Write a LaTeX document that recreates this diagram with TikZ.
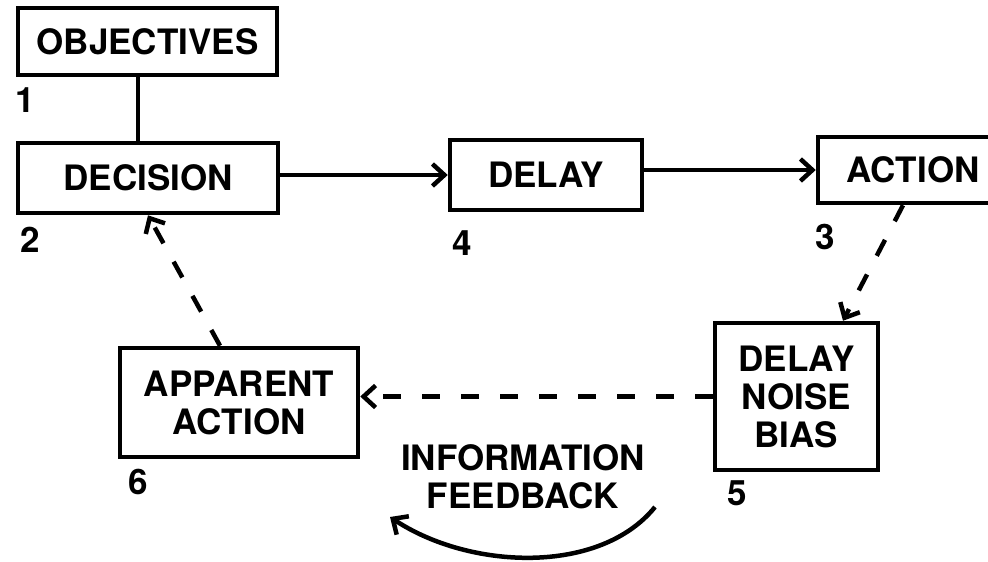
\documentclass[tikz,border=0pt]{standalone}
\usepackage{fontspec}
\setmainfont{TeX Gyre Heros}
\usetikzlibrary{arrows.meta}
\begin{document}
\begin{tikzpicture}[x=1pt,y=-1pt,
  every node/.style={font=\fontsize{35}{38}\selectfont\bfseries},
  blk/.style={draw,line width=4.5pt,inner sep=0pt,align=center},
  num/.style={inner sep=0pt},
  tip/.style={-{Straight Barb[length=12pt,width=22pt,line width=4.5pt]}},
  con/.style={line width=4.5pt,tip},
  dcon/.style={line width=4.5pt,tip,dash pattern=on 18pt off 21pt}]
\useasboundingbox (0,0) rectangle (988,562);
\node[blk,minimum width=259pt,minimum height=67pt] (obj) at (147.5,41.5) {OBJECTIVES};
\node[blk,minimum width=260pt,minimum height=70pt] (dec) at (148,178) {DECISION};
\node[blk,minimum width=192pt,minimum height=70pt] (del) at (546,175) {DELAY};
\node[blk,minimum width=190pt,minimum height=66pt] (act) at (913,170) {ACTION};
\node[blk,minimum width=163pt,minimum height=147pt] (nb) at (796.5,396.5) {DELAY\\NOISE\\BIAS};
\node[blk,minimum width=238pt,minimum height=109pt] (app) at (239,402.5) {APPARENT\\ACTION};
\node[num] (n1) at (25,100) {1};
\node[num] (n2) at (30,240) {2};
\node[num] (n4) at (462,243) {4};
\node[num] (n3) at (825,237) {3};
\node[num] (n5) at (737,493) {5};
\node[num] (n6) at (138,482) {6};
\node[num,align=center] (ifb) at (523,477) {INFORMATION\\FEEDBACK};
\draw[line width=4.5pt] ([xshift=-9.5pt]obj.south) -- ([xshift=-9.5pt]obj.south |- dec.north);
\draw[con] (del.west -| dec.east) -- (del.west);
\draw[con] (act.west -| del.east) -- (act.west);
\draw[dcon] ([xshift=-10pt]act.south) -- ([xshift=46.5pt]nb.north);
\draw[dcon] (nb.west) -- (nb.west -| app.east);
\draw[dcon] ([xshift=-19pt]app.north) -- (dec.south);
\coordinate (fbA) at (655,507);
\coordinate (fbB) at (390,517);
\draw[con] (fbA) .. controls (600,575) and (470,570) .. (fbB);
\end{tikzpicture}
\end{document}
